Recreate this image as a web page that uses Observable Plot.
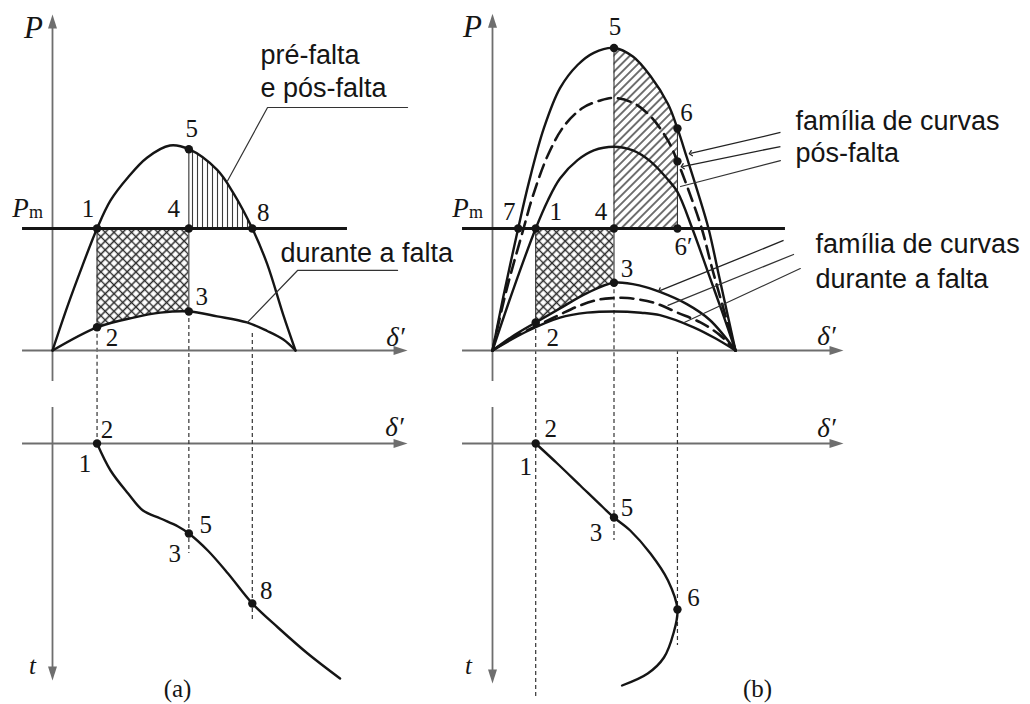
<!DOCTYPE html>
<html>
<head>
<meta charset="utf-8">
<script src="https://cdn.jsdelivr.net/npm/d3@7"></script>
<script src="https://cdn.jsdelivr.net/npm/@observablehq/plot@0.6"></script>
<style>
  body { margin: 0; background: #fff; }
  #fig { position: relative; width: 1030px; height: 704px; background: #fff; overflow: hidden; }
  #fig > div { position: absolute; }
</style>
</head>
<body>
<div id="fig"></div>
<script>
// ---------- (a) single fault: pre-fault and post-fault curve coincide ----------
const aPreDelta   = [0, 11, 22, 33, 43, 56, 70, 87, 101, 122, 134, 148, 159, 171, 180];
const aPreP       = [0, 0.36, 0.69, 1.0, 1.23, 1.42, 1.58, 1.68, 1.65, 1.48, 1.29, 1.0, 0.71, 0.29, 0];
const aFaultDelta = [0, 33, 60, 80, 101, 122, 144, 159, 171, 180];
const aFaultP     = [0, 0.19, 0.27, 0.31, 0.32, 0.28, 0.23, 0.16, 0.09, 0];
const aSwingDelta = [33, 43, 56, 67, 80, 93, 101, 115, 130, 148, 167, 189, 213];
const aSwingT     = [0, 0.54, 1.0, 1.34, 1.5, 1.66, 1.8, 2.14, 2.6, 3.2, 3.68, 4.2, 4.7];
const aKeyAngles  = [33, 101, 148];   // points 1, 4 (clearing), 8
const aKeyTimes   = [0, 1.8, 3.2];    // swing curve at 1/2, 3/5, 8

// ---------- (b) families of fault / post-fault curves ----------
const bOuterDelta = [0, 8, 19, 27, 38, 50, 63, 75, 90, 104, 117, 130, 137, 144, 152, 160, 168, 180];
const bOuterP     = [0, 0.44, 1.0, 1.38, 1.82, 2.15, 2.34, 2.44, 2.48, 2.41, 2.25, 2.02, 1.82, 1.58, 1.30, 1.0, 0.6, 0];
const bMidDelta   = [0, 10, 23, 30, 41, 53, 67, 80, 90, 104, 117, 130, 137, 145, 155, 163, 180];
const bMidP       = [0, 0.48, 1.0, 1.27, 1.6, 1.84, 1.99, 2.05, 2.07, 2.03, 1.92, 1.72, 1.55, 1.32, 1.0, 0.66, 0];
const bInnerDelta = [0, 16, 32, 41, 50, 63, 75, 90, 104, 117, 130, 137, 148, 160, 170, 180];
const bInnerP     = [0, 0.52, 1.0, 1.23, 1.41, 1.56, 1.64, 1.67, 1.64, 1.55, 1.4, 1.3, 1.0, 0.63, 0.32, 0];
const bHighDelta  = [0, 16, 32, 50, 70, 90, 110, 124, 144, 161, 180];
const bHighP      = [0, 0.125, 0.23, 0.345, 0.47, 0.555, 0.53, 0.48, 0.38, 0.25, 0];
const bMid2Delta  = [0, 16, 36, 50, 65, 80, 90, 100, 120, 137, 154, 168, 180];
const bMid2P      = [0, 0.11, 0.22, 0.295, 0.37, 0.42, 0.43, 0.43, 0.39, 0.31, 0.23, 0.13, 0];
const bLowDelta   = [0, 26, 50, 70, 90, 110, 124, 149, 165, 180];
const bLowP       = [0, 0.16, 0.27, 0.31, 0.32, 0.31, 0.29, 0.19, 0.1, 0];
const bSwingDelta = [32, 48, 65, 82, 90, 102, 117, 130, 137, 134, 127, 115, 96];
const bSwingT     = [0, 0.4, 0.84, 1.28, 1.48, 1.74, 2.2, 2.74, 3.32, 3.8, 4.28, 4.6, 4.84];
const bKeyAngles  = [19, 32, 90, 137];  // points 7, 1, 4 (clearing), 6′
const bKeyTimes   = [0, 1.48, 3.32];

const aNotes = ["pré-falta\ne pós-falta", "durante a falta"];
const bNotes = ["família de curvas\npós-falta", "família de curvas\ndurante a falta"];

// ---------- helpers ----------
const SERIF = "Liberation Serif, Times New Roman, serif";
const SANS = "Liberation Sans, Arial, sans-serif";
const INK = "#151515", AXIS = "#6e6e6e";
const rows = (xs, ys, k = "v") => xs.map((d, i) => ({d, [k]: ys[i]}));
const at = (rs, d) => rs.find(r => r.d === d).v;
const between = (rs, lo, hi) => rs.filter(r => r.d >= lo && r.d <= hi);

// filled axis arrowheads (tip at the anchor point)
const headUp    = {draw(c) { c.moveTo(0, 0); c.lineTo(4.5, 14); c.lineTo(-4.5, 14); c.closePath(); }};
const headRight = {draw(c) { c.moveTo(0, 0); c.lineTo(-14, 4.5); c.lineTo(-14, -4.5); c.closePath(); }};
const headDown  = {draw(c) { c.moveTo(0, 0); c.lineTo(-4.5, -14); c.lineTo(4.5, -14); c.closePath(); }};
const head = (d, v, symbol) => Plot.dot([{d, v}], {x: "d", y: "v", symbol, r: 5, fill: AXIS, stroke: "none"});

// hatch patterns used by the area fills
function hatchDefs(prefix) {
  return () => {
    const defs = d3.create("svg:defs");
    const s = 6.2;
    const cross = defs.append("pattern").attr("id", prefix + "-cross")
      .attr("patternUnits", "userSpaceOnUse").attr("width", s).attr("height", s)
      .attr("patternTransform", "rotate(45)");
    cross.append("rect").attr("width", s).attr("height", s).attr("fill", "#fff");
    cross.append("path").attr("d", `M${s / 2},0V${s}M0,${s / 2}H${s}`)
      .attr("stroke", "#2a2a2a").attr("stroke-width", 1.5);
    const vert = defs.append("pattern").attr("id", prefix + "-vert")
      .attr("patternUnits", "userSpaceOnUse").attr("width", 5).attr("height", 5);
    vert.append("rect").attr("width", 5).attr("height", 5).attr("fill", "#fff");
    vert.append("path").attr("d", "M2.5,0V5").attr("stroke", "#3c3c3c").attr("stroke-width", 1.1);
    const d = 5.8;
    const diag = defs.append("pattern").attr("id", prefix + "-diag")
      .attr("patternUnits", "userSpaceOnUse").attr("width", d).attr("height", d)
      .attr("patternTransform", "rotate(45)");
    diag.append("rect").attr("width", d).attr("height", d).attr("fill", "#fff");
    diag.append("path").attr("d", `M${d / 2},0V${d}`).attr("stroke", "#262626").attr("stroke-width", 1.3);
    return defs.node();
  };
}

const numLabels = list => list.map(([s, d, v, dx, dy]) =>
  Plot.text([{d, v, s}], {x: "d", y: "v", text: "s", dx, dy, fontFamily: SERIF, fontSize: 25, fill: INK}));
const italic = (s, d, v, size) =>
  Plot.text([{d, v, s}], {x: "d", y: "v", text: "s", fontFamily: SERIF, fontStyle: "italic", fontSize: size, fill: INK});
const note = (s, d, v, lineHeight) =>
  Plot.text([{d, v, s}], {x: "d", y: "v", text: "s", textAnchor: "start", lineAnchor: "top", lineHeight,
    fontFamily: SANS, fontSize: 27, fill: INK});
const curve = (data, extra = {}) =>
  Plot.line(data, {x: "d", y: "v", curve: "catmull-rom", stroke: INK, strokeWidth: 2.4, ...extra});
const dashedCurve = data => curve(data, {strokeDasharray: "13,7", strokeWidth: 2.6});
const thin = (d, v1, v2) => Plot.ruleX([d], {y1: v1, y2: v2, stroke: "#333", strokeWidth: 1.1});
const guide = (d, v1, v2) => Plot.ruleX([d], {y1: v1, y2: v2, stroke: "#333", strokeWidth: 1.2, strokeDasharray: "4,3"});
const leader = pts => Plot.line(pts, {x: "d", y: "v", stroke: "#333", strokeWidth: 1.2});
const arrowLeader = (d1, v1, d2, v2) =>
  Plot.link([{d1, v1, d2, v2}], {x1: "d1", y1: "v1", x2: "d2", y2: "v2", stroke: "#222", strokeWidth: 1.3, markerEnd: "arrow"});
const dots = pts => Plot.dot(pts, {x: "d", y: "v", r: 4.2, fill: INK, stroke: "none"});

// scales: 180° of δ′ spans 243 px; Pm = 1 p.u. sits 122 px above the δ′ axis; 1 time unit = 50 px
const yTop = {domain: [0, 1], range: [350, 228], axis: null};
const yBot = {domain: [0, 1], range: [73, 123], axis: null};
const xA = {domain: [0, 180], range: [52, 295], axis: null};
const xB = {domain: [0, 180], range: [32, 275], axis: null};
const TOP_EDGE = -0.164, BOT_EDGE = -1.46;   // shared border of the upper and lower diagrams

const fig = document.getElementById("fig");
function mount(svg, left, top) {
  const div = document.createElement("div");
  div.style.left = left + "px";
  div.style.top = top + "px";
  svg.style.maxWidth = "none";
  svg.style.overflow = "visible";
  svg.style.background = "transparent";
  div.append(svg);
  fig.append(div);
}

// ================= (a) upper: P–δ′ =================
const aPre = rows(aPreDelta, aPreP);
const aFault = rows(aFaultDelta, aFaultP);
const [a1, a4, a8] = aKeyAngles;

mount(Plot.plot({
  width: 460, height: 370, x: xA, y: yTop,
  marks: [
    hatchDefs("a"),
    Plot.areaY(between(aFault, a1, a4), {x: "d", y1: 1, y2: "v", fill: "url(#a-cross)", curve: "catmull-rom"}),
    Plot.areaY(between(aPre, a4, a8), {x: "d", y1: 1, y2: "v", fill: "url(#a-vert)", curve: "catmull-rom"}),
    thin(a1, 1, at(aFault, a1)),
    thin(a4, at(aPre, a4), at(aFault, a4)),
    guide(a1, at(aFault, a1), TOP_EDGE),
    guide(a4, at(aFault, a4), TOP_EDGE),
    guide(a8, 0.14, TOP_EDGE),
    Plot.ruleX([0], {y1: TOP_EDGE, y2: 2.67, stroke: AXIS, strokeWidth: 1.8}),
    Plot.ruleY([0], {x1: -22.2, x2: 256, stroke: AXIS, strokeWidth: 1.8}),
    head(0, 2.754, headUp),
    head(263, 0, headRight),
    curve(aPre),
    curve(aFault),
    Plot.ruleY([1], {x1: -22.2, x2: 218.5, stroke: INK, strokeWidth: 3.2}),
    leader([{d: 129.6, v: 1.39}, {d: 159.3, v: 1.992}, {d: 263, v: 1.992}]),
    leader([{d: 144.4, v: 0.23}, {d: 181.5, v: 0.656}, {d: 255.6, v: 0.656}]),
    dots([{d: a1, v: 1}, {d: a1, v: at(aFault, a1)}, {d: a4, v: at(aFault, a4)},
          {d: a4, v: 1}, {d: a4, v: at(aPre, a4)}, {d: a8, v: 1}]),
    ...numLabels([["1", a1, 1, -9, -20], ["2", a1, at(aFault, a1), 15, 11], ["3", a4, at(aFault, a4), 13, -14],
                  ["4", a4, 1, -15, -20], ["5", a4, at(aPre, a4), 3, -20], ["8", a8, 1, 11, -16]]),
    italic("P", -14.1, 2.639, 31),
    italic("P", -23.7, 1.164, 27),
    Plot.text([{d: -12.2, v: 1.131, s: "m"}], {x: "d", y: "v", text: "s", fontFamily: SERIF, fontSize: 18, fill: INK}),
    italic("δ′", 254, 0.107, 27),
    note(aNotes[0], 154.1, 2.543, 1.22),
    note(aNotes[1], 168.9, 0.911, 1.2)
  ]
}), 0, 0);

// ================= (a) lower: t–δ′ =================
const aSwing = rows(aSwingDelta, aSwingT);
mount(Plot.plot({
  width: 460, height: 334, x: xA, y: yBot,
  marks: [
    Plot.ruleX([0], {y1: BOT_EDGE, y2: -1.24, stroke: AXIS, strokeWidth: 1.8}),
    Plot.ruleX([0], {y1: -0.72, y2: 4.54, stroke: AXIS, strokeWidth: 1.8}),
    Plot.ruleY([0], {x1: -22.2, x2: 256, stroke: AXIS, strokeWidth: 1.8}),
    head(0, 4.74, headDown),
    head(263, 0, headRight),
    guide(a1, BOT_EDGE, aKeyTimes[0]),
    guide(a4, BOT_EDGE, 2.2),
    guide(a8, BOT_EDGE, 3.54),
    curve(aSwing),
    dots([{d: a1, v: aKeyTimes[0]}, {d: a4, v: aKeyTimes[1]}, {d: a8, v: aKeyTimes[2]}]),
    ...numLabels([["2", a1, aKeyTimes[0], 10, -14], ["1", a1, aKeyTimes[0], -12, 20],
                  ["5", a4, aKeyTimes[1], 17, -9], ["3", a4, aKeyTimes[1], -14, 20],
                  ["8", a8, aKeyTimes[2], 14, -13]]),
    italic("δ′", 253.3, -0.32, 27),
    italic("t", -14.8, 4.44, 25),
    Plot.text([{d: 92.6, v: 4.9, s: "(a)"}], {x: "d", y: "v", text: "s", fontFamily: SERIF, fontSize: 25, fill: INK})
  ]
}), 0, 370);

// ================= (b) upper: P–δ′ =================
const bOuter = rows(bOuterDelta, bOuterP);
const bMid = rows(bMidDelta, bMidP);
const bInner = rows(bInnerDelta, bInnerP);
const bHigh = rows(bHighDelta, bHighP);
const bMid2 = rows(bMid2Delta, bMid2P);
const bLow = rows(bLowDelta, bLowP);
const [b7, b1, b4, b6] = bKeyAngles;

mount(Plot.plot({
  width: 570, height: 370, x: xB, y: yTop,
  marks: [
    hatchDefs("b"),
    Plot.areaY(between(bHigh, b1, b4), {x: "d", y1: 1, y2: "v", fill: "url(#b-cross)", curve: "catmull-rom"}),
    Plot.areaY(between(bOuter, b4, b6), {x: "d", y1: 1, y2: "v", fill: "url(#b-diag)", curve: "catmull-rom"}),
    thin(b1, 1, at(bHigh, b1)),
    thin(b4, at(bOuter, b4), at(bHigh, b4)),
    thin(b6, at(bOuter, b6), 1),
    guide(b1, at(bHigh, b1), TOP_EDGE),
    guide(b4, at(bHigh, b4), TOP_EDGE),
    guide(b6, 0, TOP_EDGE),
    Plot.ruleX([0], {y1: TOP_EDGE, y2: 2.67, stroke: AXIS, strokeWidth: 1.8}),
    Plot.ruleY([0], {x1: -22.2, x2: 253, stroke: AXIS, strokeWidth: 1.8}),
    head(0, 2.76, headUp),
    head(260, 0, headRight),
    curve(bOuter),
    dashedCurve(bMid),
    curve(bInner),
    curve(bHigh),
    dashedCurve(bMid2),
    curve(bLow),
    Plot.ruleY([1], {x1: -22.2, x2: 217, stroke: INK, strokeWidth: 3.2}),
    arrowLeader(213.3, 1.787, 146.7, 1.615),
    arrowLeader(213.3, 1.672, 140.7, 1.508),
    leader([{d: 213.3, v: 1.557}, {d: 139.3, v: 1.344}]),
    arrowLeader(215.6, 0.902, 124, 0.49),
    leader([{d: 223, v: 0.787}, {d: 130, v: 0.37}]),
    leader([{d: 228, v: 0.672}, {d: 142, v: 0.23}]),
    dots([{d: b7, v: 1}, {d: b1, v: 1}, {d: b4, v: 1}, {d: b6, v: 1},
          {d: b4, v: at(bOuter, b4)}, {d: b6, v: at(bOuter, b6)}, {d: b6, v: at(bMid, b6)},
          {d: b4, v: at(bHigh, b4)}, {d: b1, v: at(bHigh, b1)}]),
    ...numLabels([["7", b7, 1, -9, -17], ["1", b1, 1, 20, -17], ["4", b4, 1, -13, -17],
                  ["5", b4, at(bOuter, b4), 1, -21], ["6", b6, at(bOuter, b6), 9, -15],
                  ["6′", b6, 1, 6, 18], ["3", b4, at(bHigh, b4), 13, -14], ["2", b1, at(bHigh, b1), 17, 16]]),
    italic("P", -14.8, 2.648, 31),
    italic("P", -23.7, 1.164, 27),
    Plot.text([{d: -12.2, v: 1.131, s: "m"}], {x: "d", y: "v", text: "s", fontFamily: SERIF, fontSize: 18, fill: INK}),
    italic("δ′", 247.4, 0.115, 27),
    note(bNotes[0], 224.4, 1.993, 1.185),
    note(bNotes[1], 239.3, 0.993, 1.26)
  ]
}), 460, 0);

// ================= (b) lower: t–δ′ =================
const bSwing = rows(bSwingDelta, bSwingT);
mount(Plot.plot({
  width: 570, height: 334, x: xB, y: yBot,
  marks: [
    Plot.ruleX([0], {y1: BOT_EDGE, y2: -1.24, stroke: AXIS, strokeWidth: 1.8}),
    Plot.ruleX([0], {y1: -0.72, y2: 4.6, stroke: AXIS, strokeWidth: 1.8}),
    Plot.ruleY([0], {x1: -22.2, x2: 253, stroke: AXIS, strokeWidth: 1.8}),
    head(0, 4.8, headDown),
    head(260, 0, headRight),
    guide(b1, BOT_EDGE, 5.08),
    guide(b4, BOT_EDGE, 1.94),
    guide(b6, BOT_EDGE, 4.04),
    curve(bSwing),
    dots([{d: b1, v: bKeyTimes[0]}, {d: b4, v: bKeyTimes[1]}, {d: b6, v: bKeyTimes[2]}]),
    ...numLabels([["2", b1, bKeyTimes[0], 15, -15], ["1", b1, bKeyTimes[0], -10, 23],
                  ["5", b4, bKeyTimes[1], 13, -10], ["3", b4, bKeyTimes[1], -18, 15],
                  ["6", b6, bKeyTimes[2], 16, -12]]),
    italic("δ′", 247.4, -0.3, 27),
    italic("t", -17.8, 4.44, 25),
    Plot.text([{d: 196.3, v: 4.9, s: "(b)"}], {x: "d", y: "v", text: "s", fontFamily: SERIF, fontSize: 25, fill: INK})
  ]
}), 460, 370);
</script>
</body>
</html>
